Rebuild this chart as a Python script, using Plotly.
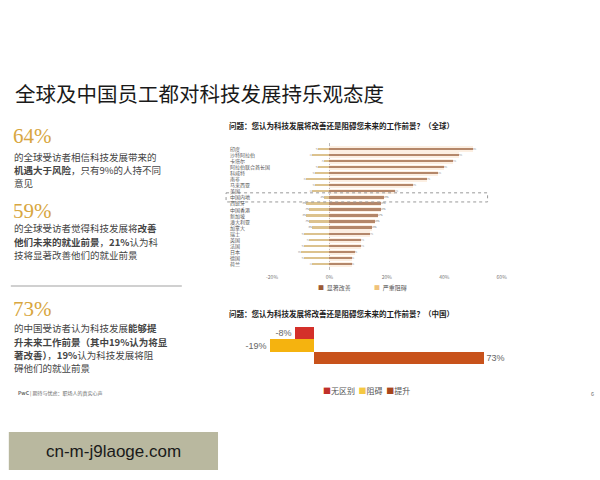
import plotly.graph_objects as go

# ---------------- data ----------------
countries = ["印度", "沙特阿拉伯", "卡塔尔", "阿拉伯联合酋长国", "科威特", "南非", "马来西亚", "美国",
             "中国内地", "西班牙", "中国香港", "新加坡", "澳大利亚", "加拿大", "瑞士", "英国",
             "法国", "日本", "德国", "荷兰"]
improve = [50, 45, 43, 40, 38, 34, 29, 23, 19, 18, 18, 17, 16, 15, 14, 11, 11, 9, 8, 8]
hinder = [-4, -6, -2, -4, -5, -8, -5, -6, -2, -8, -7, -8, -7, -6, -9, -7, -9, -10, -9, -6]
global_ticks = [-20, 0, 20, 40, 60]
highlight = "中国内地"

china_cats = ["无区别", "阻碍", "提升"]
china_vals = [-8, -19, 73]
china_colors = ["#d4302a", "#f5b30f", "#c8521b"]

W, H = 600, 480
K = 0.976  # compensates the slight horizontal squeeze seen in the photographed page
def px(x): return (300 + (x - 300) / K) / W
def py(y): return 1 - y / H

fig = go.Figure()

# ---------------- top chart (global) ----------------
fig.add_trace(go.Bar(y=countries, x=improve, orientation="h", width=0.85,
                     marker=dict(color="#fcefe2", line=dict(width=0)),
                     xaxis="x", yaxis="y", showlegend=False, hoverinfo="skip"))
fig.add_trace(go.Bar(y=countries, x=improve, orientation="h", width=0.32,
                     marker=dict(color="#b4876a", line=dict(width=0)),
                     text=[f"{v}%" for v in improve], textposition="outside",
                     textfont=dict(size=5, color="#666"), cliponaxis=False,
                     xaxis="x", yaxis="y", showlegend=False, name="显著改善"))
fig.add_trace(go.Bar(y=countries, x=hinder, orientation="h", width=0.32,
                     marker=dict(color="#dcc28e", line=dict(width=0)),
                     text=[f"{v}%" for v in hinder], textposition="outside",
                     textfont=dict(size=5, color="#666"), cliponaxis=False,
                     xaxis="x", yaxis="y", showlegend=False, name="严重阻碍"))

# ---------------- bottom chart (China) ----------------
for c, v, col in zip(china_cats, china_vals, china_colors):
    fig.add_trace(go.Bar(y=[c], x=[v], orientation="h", width=1.0,
                         marker=dict(color=col, line=dict(width=0)),
                         text=[f"{v}%"], textposition="outside",
                         textfont=dict(size=9, color="#666", family="Liberation Sans"),
                         cliponaxis=False, xaxis="x2", yaxis="y2",
                         showlegend=False, name=c))

fig.update_layout(
    width=W, height=H, margin=dict(l=0, r=0, t=0, b=0),
    paper_bgcolor="white", plot_bgcolor="rgba(0,0,0,0)",
    barmode="overlay", bargap=0,
    font=dict(family="Noto Sans CJK SC", color="#333"),
    xaxis=dict(domain=[px(271.7), px(500)], range=[-20, 60], tickvals=global_ticks,
               ticktext=[f"{t}%" for t in global_ticks], tickfont=dict(size=5, color="#777"),
               showgrid=False, zeroline=True, zerolinecolor="#bbb", zerolinewidth=1,
               showline=False, ticks="", anchor="y", ticklabelstandoff=3),
    yaxis=dict(domain=[py(270.2), py(142.8)], categoryorder="array", categoryarray=countries,
               autorange="reversed", showticklabels=False, showgrid=False, zeroline=False,
               ticks="", anchor="x"),
    xaxis2=dict(domain=[px(243.4), px(521.8)], range=[-30, 90], showticklabels=False,
                showgrid=False, zeroline=False, showline=False, ticks="", anchor="y2"),
    yaxis2=dict(domain=[py(364), py(327)], categoryorder="array", categoryarray=china_cats,
                autorange="reversed", showticklabels=False, showgrid=False, zeroline=False,
                ticks="", anchor="x2"),
)

ann = []
def text(x, y, s, size, color="#333", family="Noto Sans CJK SC", xanchor="left", yanchor="middle"):
    ann.append(dict(x=px(x), y=py(y), xref="paper", yref="paper", text=s, showarrow=False,
                    xanchor=xanchor, yanchor=yanchor, align="left",
                    font=dict(size=size, color=color, family=family)))

# country labels
for c in countries:
    ann.append(dict(x=px(228), y=c, xref="paper", yref="y", text=c, showarrow=False,
                    xanchor="left", yanchor="middle", font=dict(size=5, color="#555")))

# highlight box
hi = countries.index(highlight)
fig.add_shape(type="rect", xref="paper", yref="y", x0=px(226), x1=px(486),
              y0=hi - 0.75, y1=hi + 0.75, line=dict(color="#999", width=1, dash="dot"))

# title
text(14, 93, "全球及中国员工都对科技发展持乐观态度", 20.5, "#1a1a1a")

gold = "#d8a640"
serif = "Liberation Serif"
text(12, 136, "64%", 21, gold, serif)
text(13, 157, "的全球受访者相信科技发展带来的", 9.5, "#444")
text(13, 170, "<b>机遇大于风险</b>，只有9%的人持不同", 9.5, "#444")
text(13, 183, "意见", 9.5, "#444")

text(12, 211, "59%", 21, gold, serif)
text(13, 228, "的全球受访者觉得科技发展将<b>改善</b>", 9.5, "#444")
text(13, 242, "<b>他们未来的就业前景</b>，<b>21%</b>认为科", 9.5, "#444")
text(13, 255, "技将显著改善他们的就业前景", 9.5, "#444")

fig.add_shape(type="line", xref="paper", yref="paper", x0=px(12), x1=px(182),
              y0=py(286), y1=py(286), line=dict(color="#d0d0d0", width=2))

text(12, 309, "73%", 21, gold, serif)
text(13, 328, "的中国受访者认为科技发展<b>能够提</b>", 9.5, "#444")
text(13, 342, "<b>升未来工作前景（其中19%认为将显</b>", 9.5, "#444")
text(13, 355, "<b>著改善）</b>，<b>19%</b>认为科技发展将阻", 9.5, "#444")
text(13, 368, "碍他们的就业前景", 9.5, "#444")

text(17, 393, "<b>PwC</b> | 期待与忧虑：职场人的真实心声", 5, "#666")
text(587, 394, "6", 5.5, "#666")

# chart titles
text(227, 126, "<b>问题：您认为科技发展将改善还是阻碍您未来的工作前景？（全球）</b>", 7.5, "#222")
text(227, 313, "<b>问题：您认为科技发展将改善还是阻碍您未来的工作前景？（中国）</b>", 7.5, "#222")

# legends
text(315, 287, "<span style='color:#9c5a35'>■</span>  显著改善", 6, "#555")
text(371, 287, "<span style='color:#f0c27a'>■</span>  严重阻碍", 6, "#555")
text(320, 390,
     "<span style='color:#c0302a'>■</span>无区别  <span style='color:#f5c842'>■</span>阻碍  "
     "<span style='color:#a8461c'>■</span>提升", 8, "#555")

# watermark box
fig.add_shape(type="rect", xref="paper", yref="paper", x0=px(10), x1=px(218),
              y0=py(470), y1=py(432), fillcolor="#b9b89f", line=dict(width=0))
text(114, 451, "cn-m-j9laoge.com", 17, "#1a1a1a", "Liberation Sans", xanchor="center")

fig.update_layout(annotations=ann)

# remove the default page margin so the 600x480 figure fills the window exactly
post = ("document.documentElement.style.margin='0';document.body.style.margin='0';"
        "document.documentElement.style.overflow='hidden';document.body.style.overflow='hidden';"
        "var d=document.getElementById('{plot_id}');"
        "d.parentElement.style.height='480px';d.parentElement.style.overflow='hidden';")
fig.write_html("out.html", post_script=post, config={"displayModeBar": False})
